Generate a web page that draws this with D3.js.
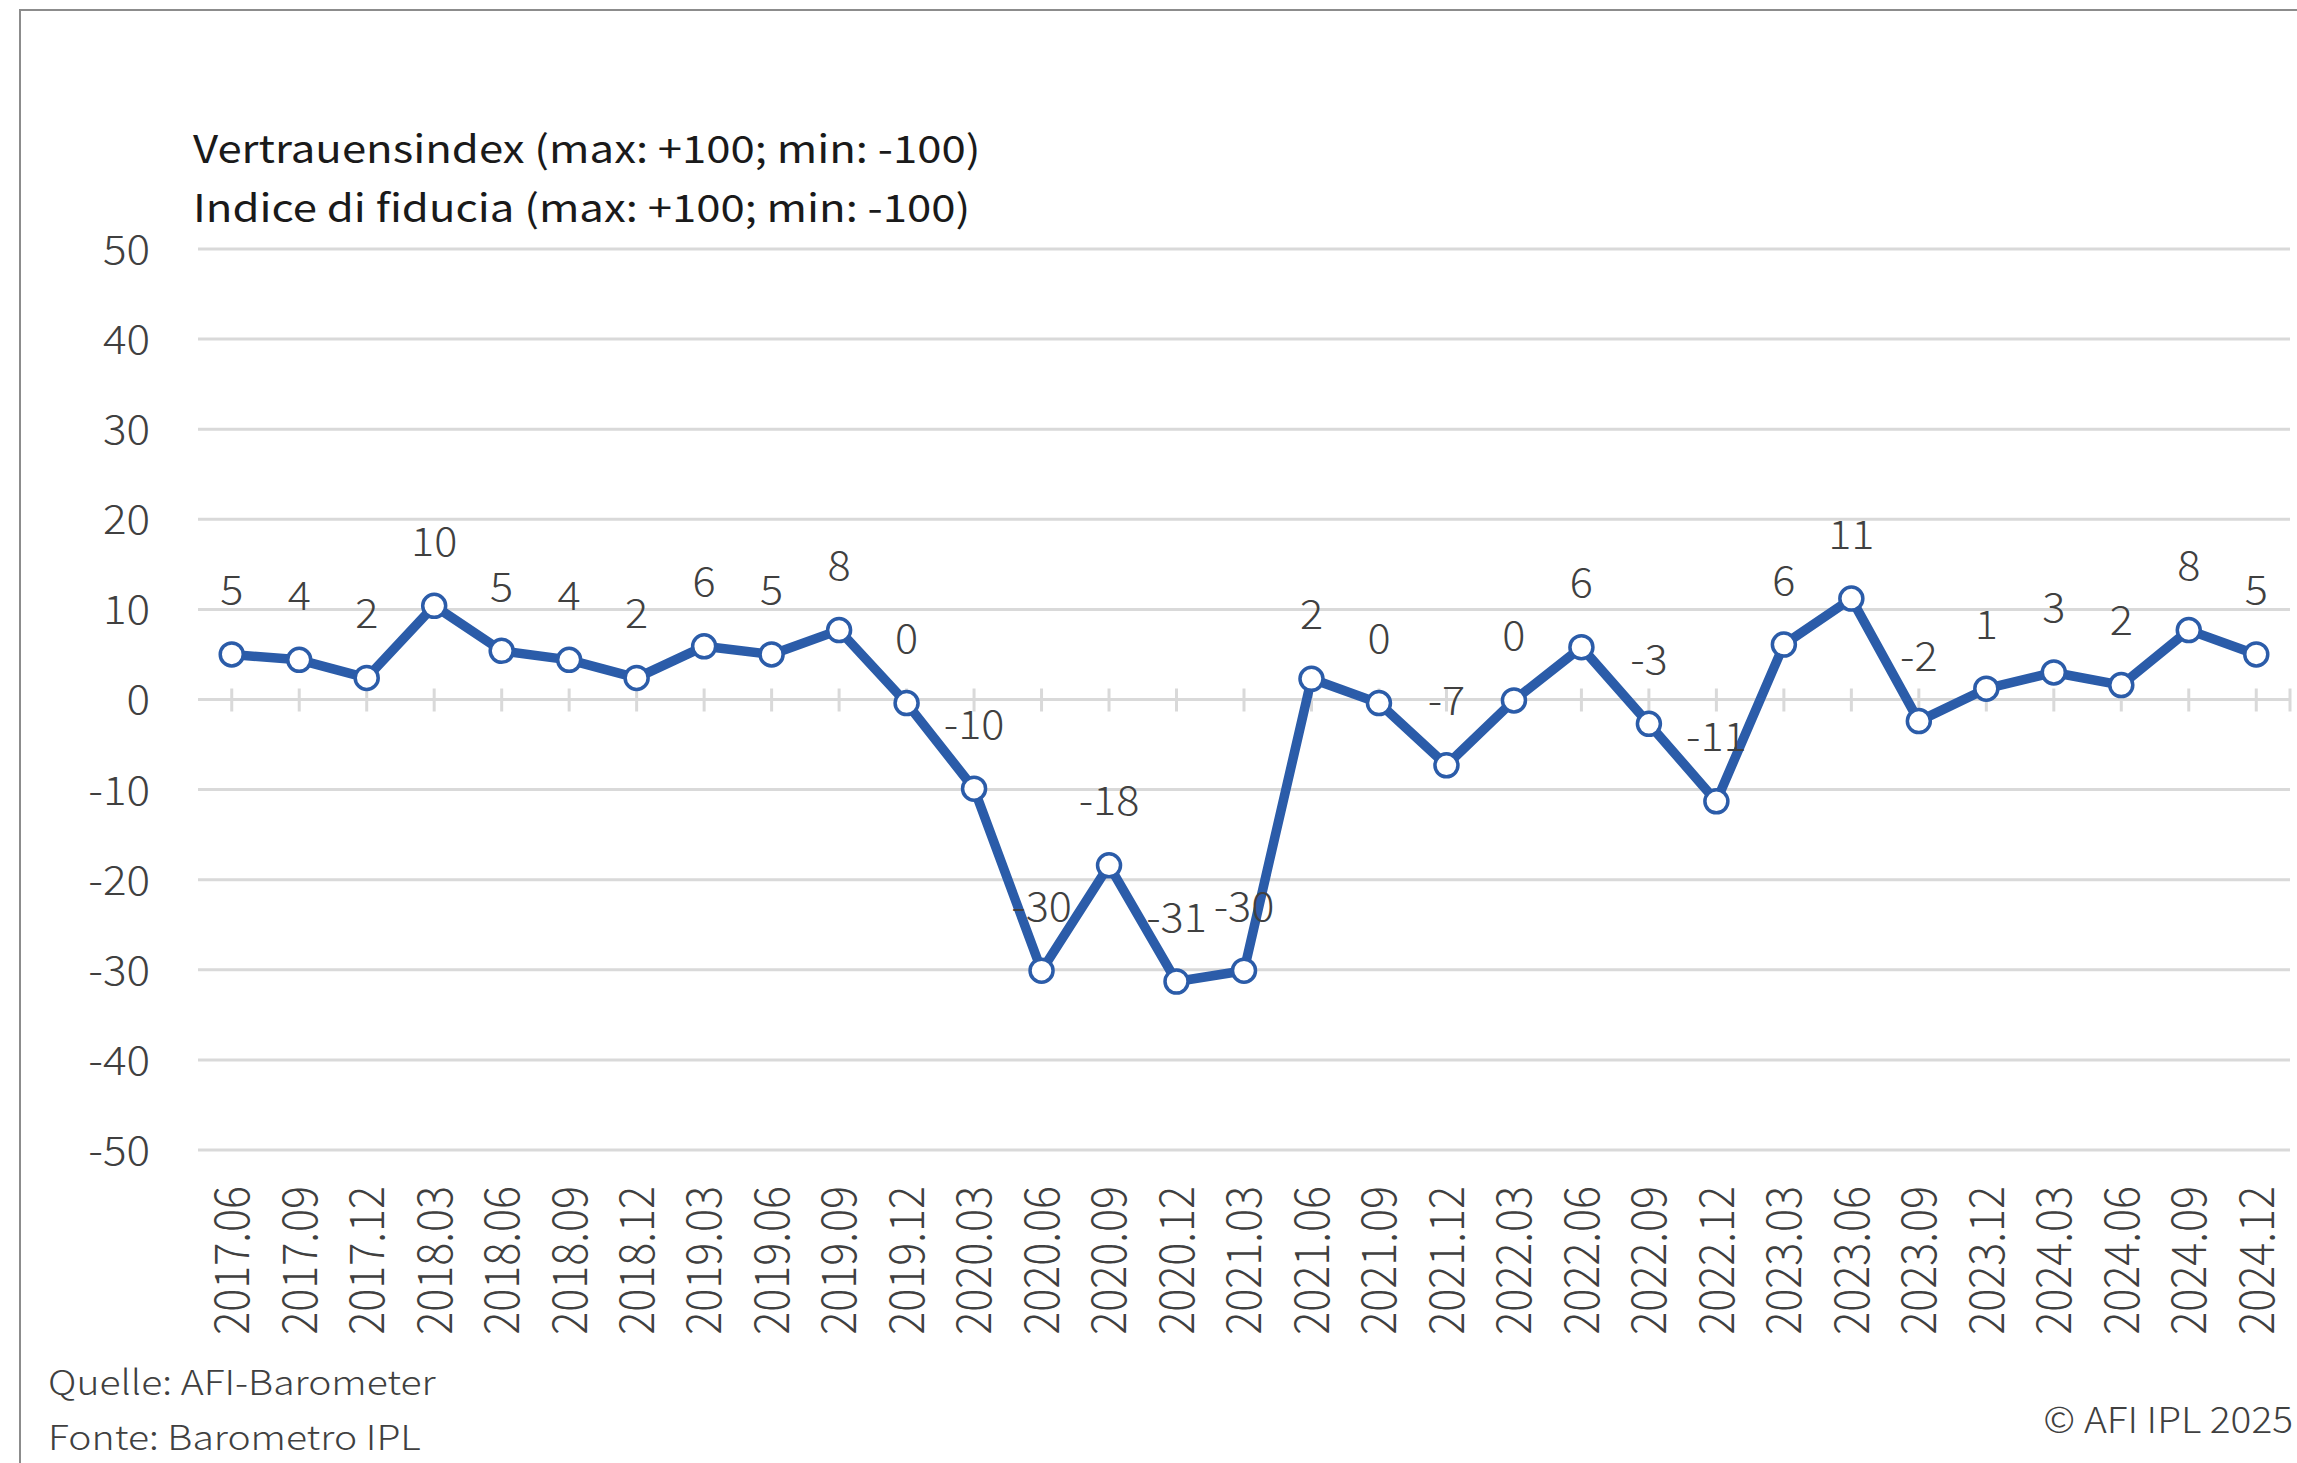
<!DOCTYPE html>
<html>
<head>
<meta charset="utf-8">
<script src="https://cdn.jsdelivr.net/npm/d3@7"></script>
<style>
  html, body { margin: 0; padding: 0; background: #fff; }
  svg text { font-family: "Noto Sans CJK JP", "Noto Sans", sans-serif; }
</style>
</head>
<body>
<div id="vis_canvas"></div>
<script>
var periods = ['2017.06','2017.09','2017.12',
    '2018.03','2018.06','2018.09','2018.12',
    '2019.03','2019.06','2019.09','2019.12',
    '2020.03','2020.06','2020.09','2020.12',
    '2021.03','2021.06','2021.09','2021.12',
    '2022.03','2022.06','2022.09','2022.12',
    '2023.03','2023.06','2023.09','2023.12',
    '2024.03','2024.06','2024.09','2024.12'];
var index_values = [5.0, 4.4, 2.4,
    10.4, 5.4, 4.4, 2.4,
    5.9, 5.0, 7.7, -0.4,
    -9.9, -30.1, -18.4, -31.3,
    -30.1, 2.3, -0.4, -7.3,
    -0.1, 5.8, -2.7, -11.3,
    6.1, 11.2, -2.4, 1.2,
    3.0, 1.6, 7.7, 5.0];
var y_ticks = [-50, -40, -30, -20, -10, 0, 10, 20, 30, 40, 50];
var title_lines = ['Vertrauensindex (max: +100; min: -100)', 'Indice di fiducia (max: +100; min: -100)'];
var source_lines = ['Quelle: AFI-Barometer', 'Fonte: Barometro IPL'];
var copyright = '\u00a9 AFI IPL 2025';

var W = 2297, H = 1463;
var plot = {left: 198, right: 2290, top: 249, bottom: 1150};
var lineColor = '#2b5ca9';
// the source image is slightly stretched horizontally, so text is too
var stretch = function (tx, ty, sx) {
    return 'translate(' + tx + ',' + ty + ') scale(' + sx + ',1)';
};
var fmt = function (v) { return d3.format('.0f')(v).replace('\u2212', '-'); };

var data = periods.map(function (p, i) { return {period: p, value: index_values[i]}; });

var x = d3.scaleBand().domain(periods).range([plot.left, plot.right]).padding(0);
var y = d3.scaleLinear().domain([-50, 50]).range([plot.bottom, plot.top]);
var cx = function (d) { return x(d.period) + x.bandwidth() / 2; };

var svg = d3.select('#vis_canvas').append('svg')
    .attr('width', W)
    .attr('height', H);

// frame
svg.append('path')
    .attr('d', 'M20,' + H + 'V10H' + W)
    .attr('fill', 'none')
    .attr('stroke', '#8c8c8c')
    .attr('stroke-width', 2);

// gridlines
svg.append('g').selectAll('line')
    .data(y_ticks)
    .enter().append('line')
    .attr('x1', plot.left)
    .attr('x2', plot.right)
    .attr('y1', function (d) { return y(d); })
    .attr('y2', function (d) { return y(d); })
    .attr('stroke', '#d9d9d9')
    .attr('stroke-width', 3);

// y axis labels
var yAxis = svg.append('g')
    .attr('transform', 'translate(150,0)')
    .call(d3.axisLeft(y).tickValues(y_ticks).tickSize(0).tickPadding(0).tickFormat(fmt));
yAxis.select('.domain').remove();
yAxis.selectAll('text')
    .attr('x', 0)
    .attr('dy', '0.36em')
    .attr('transform', 'scale(1.1,1)')
    .style('font-size', '40px')
    .style('font-weight', 300)
    .attr('fill', '#404040');

// category ticks on the zero line
svg.append('g').selectAll('line')
    .data(periods.concat(['end']))
    .enter().append('line')
    .attr('x1', function (d) { return d === 'end' ? plot.right : x(d) + x.bandwidth() / 2; })
    .attr('x2', function (d) { return d === 'end' ? plot.right : x(d) + x.bandwidth() / 2; })
    .attr('y1', y(0) - 11)
    .attr('y2', y(0) + 12)
    .attr('stroke', '#d9d9d9')
    .attr('stroke-width', 3);

// x axis labels
svg.append('g').selectAll('text')
    .data(periods)
    .enter().append('text')
    .attr('transform', function (d) {
        return stretch(x(d) + x.bandwidth() / 2, 1186, 1.12) + ' rotate(-90)';
    })
    .attr('dy', '0.36em')
    .attr('text-anchor', 'end')
    .style('font-size', '43px')
    .style('font-weight', 300)
    .attr('fill', '#404040')
    .text(function (d) { return d; });

// line
var line = d3.line()
    .x(cx)
    .y(function (d) { return y(d.value); });

svg.append('path')
    .datum(data)
    .attr('d', line)
    .attr('fill', 'none')
    .attr('stroke', lineColor)
    .attr('stroke-width', 9.5)
    .attr('stroke-linejoin', 'round');

svg.append('g').selectAll('circle')
    .data(data)
    .enter().append('circle')
    .attr('cx', cx)
    .attr('cy', function (d) { return y(d.value); })
    .attr('r', 11.5)
    .attr('fill', '#fff')
    .attr('stroke', lineColor)
    .attr('stroke-width', 3.5);

// data labels
svg.append('g').selectAll('text')
    .data(data)
    .enter().append('text')
    .attr('transform', function (d) { return stretch(cx(d), y(d.value) - 50, 1.08); })
    .attr('text-anchor', 'middle')
    .style('font-size', '40px')
    .style('font-weight', 300)
    .attr('fill', '#404040')
    .text(function (d) { return fmt(d.value); });

// titles
svg.append('g').selectAll('text')
    .data(title_lines)
    .enter().append('text')
    .attr('transform', function (d, i) { return stretch(193, 163 + i * 59, 1.15); })
    .style('font-size', '38px')
    .attr('fill', '#1a1a1a')
    .text(function (d) { return d; });

// source
svg.append('g').selectAll('text')
    .data(source_lines)
    .enter().append('text')
    .attr('transform', function (d, i) { return stretch(48, 1395 + i * 55, 1.15); })
    .style('font-size', '34px')
    .style('font-weight', 300)
    .attr('fill', '#404040')
    .text(function (d) { return d; });

svg.append('text')
    .attr('transform', stretch(2293, 1433, 1.08))
    .attr('text-anchor', 'end')
    .style('font-size', '36px')
    .style('font-weight', 300)
    .attr('fill', '#404040')
    .text(copyright);
</script>
</body>
</html>
